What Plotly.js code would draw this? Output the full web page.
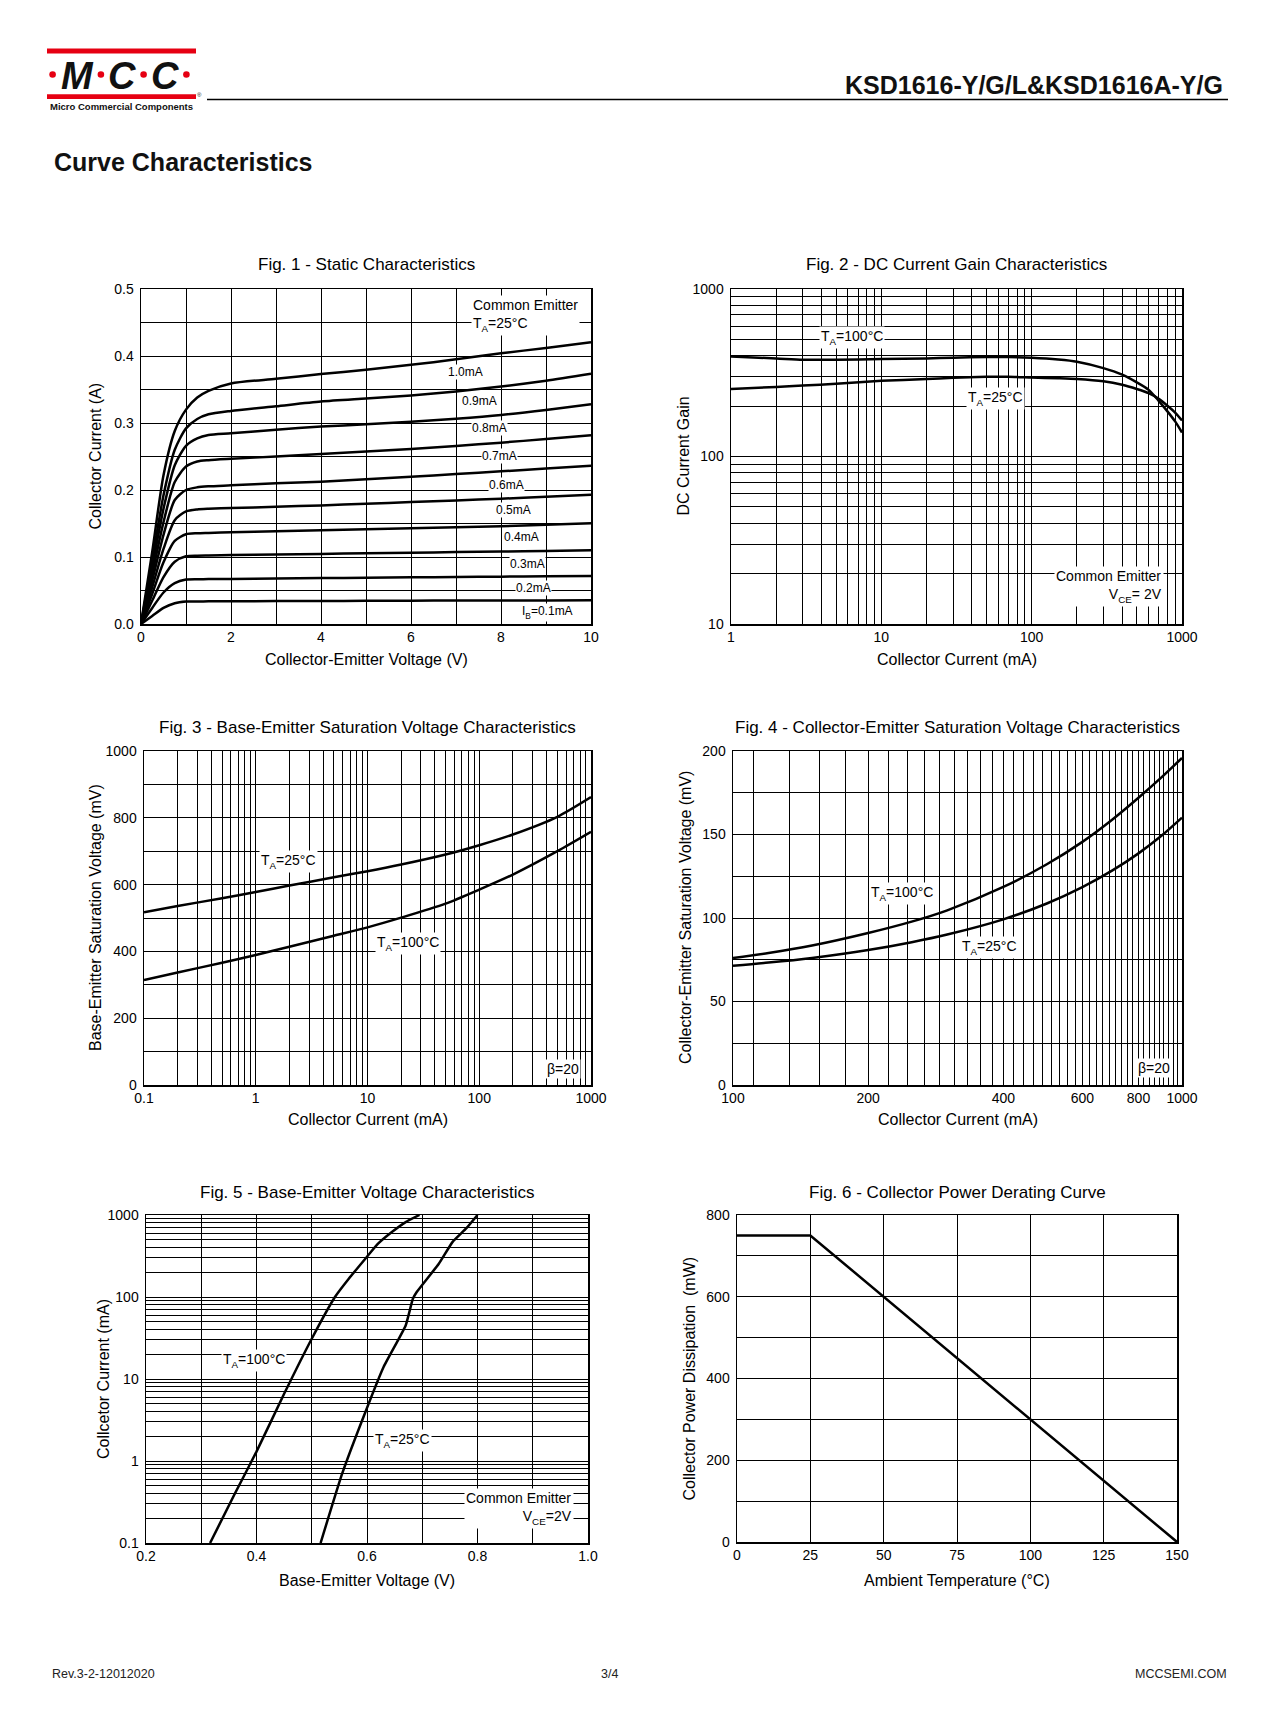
<!DOCTYPE html>
<html><head><meta charset="utf-8">
<script src="https://cdn.plot.ly/plotly-3.0.1.min.js"></script>
<style>body{margin:0;background:#fff}#chart{width:1276px;height:1719px}</style>
</head><body><div id="chart"></div>
<script>
// ---------------- DATA ----------------
// Fig. 1 - Static characteristics (Vce in V, Ic in A)
var fig1Vce = [0, 0.25, 0.5, 0.75, 1, 1.25, 1.5, 2, 3, 4, 5, 6, 7, 8, 9, 10];
var fig1Ib01 = [0, 0.012, 0.024, 0.031, 0.0335, 0.0337, 0.0338, 0.0340, 0.0342, 0.0344, 0.0346, 0.0348, 0.0350, 0.0351, 0.0352, 0.0354];
var fig1Ib02 = [0, 0.024, 0.047, 0.061, 0.0663, 0.0668, 0.0670, 0.0673, 0.0679, 0.0685, 0.0690, 0.0696, 0.0702, 0.0707, 0.0712, 0.0718];
var fig1Ib03 = [0, 0.035, 0.070, 0.093, 0.101, 0.102, 0.1023, 0.1028, 0.1037, 0.1046, 0.1055, 0.1064, 0.1073, 0.1082, 0.1091, 0.110];
var fig1Ib04 = [0, 0.045, 0.092, 0.124, 0.134, 0.1355, 0.136, 0.137, 0.1385, 0.140, 0.1415, 0.143, 0.1445, 0.146, 0.148, 0.1505];
var fig1Ib05 = [0, 0.055, 0.112, 0.155, 0.168, 0.171, 0.172, 0.173, 0.175, 0.177, 0.1795, 0.182, 0.1845, 0.187, 0.190, 0.193];
var fig1Ib06 = [0, 0.065, 0.133, 0.185, 0.200, 0.204, 0.2055, 0.207, 0.210, 0.2124, 0.216, 0.2198, 0.2238, 0.2278, 0.232, 0.2363];
var fig1Ib07 = [0, 0.075, 0.152, 0.212, 0.235, 0.2425, 0.2445, 0.2465, 0.250, 0.2537, 0.2575, 0.2612, 0.2658, 0.2707, 0.276, 0.2817];
var fig1Ib08 = [0, 0.085, 0.172, 0.237, 0.266, 0.277, 0.282, 0.2846, 0.290, 0.2946, 0.298, 0.302, 0.3065, 0.312, 0.3195, 0.328];
var fig1Ib09 = [0, 0.095, 0.192, 0.260, 0.292, 0.306, 0.313, 0.318, 0.325, 0.332, 0.3365, 0.341, 0.347, 0.3544, 0.363, 0.3734];
var fig1Ib10 = [0, 0.108, 0.222, 0.288, 0.320, 0.338, 0.348, 0.359, 0.366, 0.373, 0.3795, 0.3868, 0.395, 0.404, 0.412, 0.4207];
var fig1Labels = ['0.1mA', '0.2mA', '0.3mA', '0.4mA', '0.5mA', '0.6mA', '0.7mA', '0.8mA', '0.9mA', '1.0mA'];

// Fig. 2 - DC current gain (Ic in mA)
var fig2Ic = [1, 2, 3, 5, 10, 20, 30, 50, 70, 100, 150, 200, 300, 400, 500, 600, 700, 800, 900, 1000];
var fig2Hfe100 = [396, 385, 378, 378, 382, 385, 389, 392, 392, 388, 379, 368, 337, 308, 277, 250, 215, 186, 162, 139];
var fig2Hfe25 = [253, 260, 265, 272, 283, 290, 295, 299, 299, 296, 293, 290, 281, 268, 253, 239, 221, 201, 183, 164];

// Fig. 3 - Base-emitter saturation voltage (Ic mA, Vbe mV)
var fig3Ic = [0.1, 0.2, 0.5, 1, 2, 5, 10, 20, 50, 100, 200, 500, 1000];
var fig3Vbe25 = [517, 536, 559, 578, 597, 622, 640, 660, 690, 718, 750, 803, 862];
var fig3Vbe100 = [314, 337, 366, 389, 414, 447, 472, 501, 543, 585, 630, 700, 758];

// Fig. 4 - Collector-emitter saturation voltage (Ic mA, Vce mV)
var fig4Ic = [100, 120, 150, 200, 250, 300, 400, 500, 600, 700, 800, 900, 1000];
var fig4Vce100 = [76, 79, 83.5, 91, 97.8, 104.6, 118.6, 132.2, 145.6, 159, 172, 184.2, 195.8];
var fig4Vce25 = [71.4, 73.3, 76.1, 80.8, 85.5, 90.1, 99.2, 108.7, 118.5, 128.5, 138.7, 149.2, 160.1];

// Fig. 5 - Base-emitter voltage (Vbe V, Ic mA)
var fig5Vbe100 = [0.316, 0.36, 0.40, 0.45, 0.50, 0.542, 0.567, 0.60, 0.62, 0.645, 0.67, 0.695];
var fig5Ic100 = [0.1, 0.39, 1.3, 6.6, 31, 100, 167, 310, 447, 620, 820, 1000];
var fig5Vbe25 = [0.516, 0.555, 0.598, 0.63, 0.67, 0.683, 0.69, 0.73, 0.755, 0.78, 0.80];
var fig5Ic25 = [0.1, 0.7, 4.1, 14, 45, 95, 115, 254, 470, 690, 1000];

// Fig. 6 - Power derating
var fig6Temp = [0, 25, 150];
var fig6Pd = [750, 750, 0];

// Tick labels
var fig1XLabelVals = [0, 2, 4, 6, 8, 10], fig1XLabels = ['0', '2', '4', '6', '8', '10'];
var fig1YLabelVals = [0, 0.1, 0.2, 0.3, 0.4, 0.5], fig1YLabels = ['0.0', '0.1', '0.2', '0.3', '0.4', '0.5'];
var fig2XLabelVals = [1, 10, 100, 1000], fig2XLabels = ['1', '10', '100', '1000'];
var fig2YLabelVals = [10, 100, 1000], fig2YLabels = ['10', '100', '1000'];
var fig3XLabelVals = [0.1, 1, 10, 100, 1000], fig3XLabels = ['0.1', '1', '10', '100', '1000'];
var fig3YLabelVals = [0, 200, 400, 600, 800, 1000], fig3YLabels = ['0', '200', '400', '600', '800', '1000'];
var fig4XLabelVals = [100, 200, 400, 600, 800, 1000], fig4XLabels = ['100', '200', '400', '600', '800', '1000'];
var fig4YLabelVals = [0, 50, 100, 150, 200], fig4YLabels = ['0', '50', '100', '150', '200'];
var fig5XLabelVals = [0.2, 0.4, 0.6, 0.8, 1.0], fig5XLabels = ['0.2', '0.4', '0.6', '0.8', '1.0'];
var fig5YLabelVals = [0.1, 1, 10, 100, 1000], fig5YLabels = ['0.1', '1', '10', '100', '1000'];
var fig6XLabelVals = [0, 25, 50, 75, 100, 125, 150], fig6XLabels = ['0', '25', '50', '75', '100', '125', '150'];
var fig6YLabelVals = [0, 200, 400, 600, 800], fig6YLabels = ['0', '200', '400', '600', '800'];

// ---------------- HELPERS ----------------
var W = 1276, H = 1719;
function px(x) { return x / W; }
function py(y) { return 1 - y / H; }
function linGrid(a, b, step) { var v = []; var n = Math.round((b - a) / step); for (var i = 0; i <= n; i++) v.push(+(a + i * step).toFixed(6)); return v; }
function logGrid(e0, e1) { var v = []; for (var e = e0; e < e1; e++) for (var k = 1; k <= 9; k++) v.push(+(k * Math.pow(10, e)).toPrecision(6)); v.push(Math.pow(10, e1)); return v; }
// subscript via baseline shift (no zero-width reset spans)
function sb(t, size) { size = size || 14; return '<span style="font-size:' + (size * 0.7).toFixed(1) + 'px;baseline-shift:-' + (size * 0.3).toFixed(1) + 'px">' + t + '</span>'; }
var FONT = 'Liberation Sans, Arial, Helvetica, sans-serif';
function baseAxis() {
  return { showline: true, mirror: true, linecolor: '#000', linewidth: 1.5, showgrid: true, gridcolor: '#000', gridwidth: 1,
    zeroline: false, ticks: '', tickmode: 'array', tickfont: { family: FONT, size: 14, color: '#000' }, fixedrange: true };
}
function axis(range, type, labelVals, labels, grid, extra) {
  var a = Object.assign(baseAxis(), { range: range, tickvals: labelVals, ticktext: labels,
    minor: { tickmode: 'array', tickvals: grid, showgrid: true, gridcolor: '#000', gridwidth: 1, ticks: '' } }, extra || {});
  if (type) a.type = type;
  return a;
}

// plot boxes in pixels [left, right, top, bottom]
var boxes = {
  1: [141, 591, 289, 624],
  2: [731, 1182, 289, 624],
  3: [144, 591, 751, 1085],
  4: [733, 1182, 751, 1085],
  5: [146, 588, 1215, 1543],
  6: [737, 1177, 1215, 1542]
};

var layout = {
  width: W, height: H, margin: { l: 0, r: 0, t: 0, b: 0 }, showlegend: false,
  paper_bgcolor: '#fff', plot_bgcolor: '#fff',
  font: { family: FONT, size: 14, color: '#000' },
  annotations: [], shapes: []
};

function setAxes(n, xa, ya) {
  var b = boxes[n];
  var id = (n === 1 ? '' : n);
  xa.domain = [px(b[0]), px(b[1])]; xa.anchor = 'y' + id;
  ya.domain = [py(b[3]), py(b[2])]; ya.anchor = 'x' + id; ya.ticklabelstandoff = 3;
  layout['xaxis' + id] = xa;
  layout['yaxis' + id] = ya;
}

setAxes(1, axis([0, 10], null, fig1XLabelVals, fig1XLabels, linGrid(0, 10, 1)),
           axis([0, 0.5], null, fig1YLabelVals, fig1YLabels, linGrid(0, 0.5, 0.05)));
setAxes(2, axis([0, 3], 'log', fig2XLabelVals, fig2XLabels, logGrid(0, 3)),
           axis([1, 3], 'log', fig2YLabelVals, fig2YLabels, logGrid(1, 3)));
setAxes(3, axis([-1, 3], 'log', fig3XLabelVals, fig3XLabels, logGrid(-1, 3)),
           axis([0, 1000], null, fig3YLabelVals, fig3YLabels, linGrid(0, 1000, 100)));
var g4x = [100]; for (var k = 5; k <= 45; k++) g4x.push(+(k * 200 / 9).toFixed(4));
setAxes(4, axis([2, 3], 'log', fig4XLabelVals, fig4XLabels, g4x),
           axis([0, 200], null, fig4YLabelVals, fig4YLabels, linGrid(0, 200, 25)));
setAxes(5, axis([0.2, 1.0], null, fig5XLabelVals, fig5XLabels, linGrid(0.2, 1.0, 0.1)),
           axis([-1, 3], 'log', fig5YLabelVals, fig5YLabels, logGrid(-1, 3)));
setAxes(6, axis([0, 150], null, fig6XLabelVals, fig6XLabels, linGrid(0, 150, 25)),
           axis([0, 800], null, fig6YLabelVals, fig6YLabels, linGrid(0, 800, 100)));

// ---------------- TRACES ----------------
var traces = [];
function curve(n, x, y, shape, sm) {
  traces.push({ x: x, y: y, xaxis: 'x' + (n === 1 ? '' : n), yaxis: 'y' + (n === 1 ? '' : n), mode: 'lines',
    line: { color: '#000', width: 2.5, shape: shape || 'spline', smoothing: sm || 0.7 }, hoverinfo: 'skip' });
}
[fig1Ib01, fig1Ib02, fig1Ib03, fig1Ib04, fig1Ib05, fig1Ib06, fig1Ib07, fig1Ib08, fig1Ib09, fig1Ib10].forEach(function (s) { curve(1, fig1Vce, s); });
curve(2, fig2Ic, fig2Hfe100); curve(2, fig2Ic, fig2Hfe25);
curve(3, fig3Ic, fig3Vbe25); curve(3, fig3Ic, fig3Vbe100);
curve(4, fig4Ic, fig4Vce100); curve(4, fig4Ic, fig4Vce25);
curve(5, fig5Vbe100, fig5Ic100, 'spline', 0.5); curve(5, fig5Vbe25, fig5Ic25, 'spline', 0.4);
curve(6, fig6Temp, fig6Pd, 'linear');

// ---------------- ANNOTATIONS ----------------
var A = layout.annotations;
function ann(n, x, y, text, o) {
  A.push(Object.assign({ xref: 'x' + (n === 1 ? '' : n), yref: 'y' + (n === 1 ? '' : n), x: x, y: y, text: text,
    showarrow: false, bgcolor: '#fff', borderpad: 1, font: { family: FONT, size: 14, color: '#000' } }, o || {}));
}
function paperText(x, y, text, o) {
  A.push(Object.assign({ xref: 'paper', yref: 'paper', x: px(x), y: py(y), text: text, showarrow: false,
    xanchor: 'center', yanchor: 'middle', font: { family: FONT, size: 14, color: '#000' } }, o || {}));
}
var TA25 = 'T' + sb('A') + '=25°C', TA100 = 'T' + sb('A') + '=100°C';

// Fig 1 curve labels
var f1lx = [9.03, 8.73, 8.58, 8.46, 8.27, 8.13, 7.96, 7.75, 7.52, 7.22];
var f1ly = [0.017, 0.053, 0.089, 0.130, 0.170, 0.2074, 0.250, 0.292, 0.333, 0.3754];
fig1Labels.forEach(function (t, i) {
  ann(1, f1lx[i], f1ly[i], (i === 0 ? 'I' + sb('B', 12) + '=' : '') + t, { font: { family: FONT, size: 12, color: '#000' }, borderpad: 0 });
});
ann(1, 7.33, 0.4605, 'Common Emitter<br>' + TA25, { xanchor: 'left', align: 'left' });

ann(2, Math.log10(6.34), Math.log10(516), TA100);
ann(2, Math.log10(57.6), Math.log10(221), TA25);
ann(2, Math.log10(760), Math.log10(16.8), 'Common Emitter<br>V' + sb('CE') + '= 2V', { xanchor: 'right', align: 'right' });

ann(3, Math.log10(1.97), 668, TA25);
ann(3, Math.log10(22.9), 425, TA100);
ann(3, Math.log10(560), 49, 'β=20');

ann(4, Math.log10(238), 114.5, TA100);
ann(4, Math.log10(373), 82.4, TA25);
ann(4, Math.log10(865), 10, 'β=20');

ann(5, 0.395, 1.226, TA100);
ann(5, 0.664, 0.249, TA25);
ann(5, 0.975, -0.585, 'Common Emitter<br>V' + sb('CE') + '=2V', { xanchor: 'right', align: 'right' });

// Figure titles
var figTitles = ['Fig. 1 - Static Characteristics', 'Fig. 2 - DC Current Gain Characteristics',
  'Fig. 3 - Base-Emitter Saturation Voltage Characteristics', 'Fig. 4 - Collector-Emitter Saturation Voltage Characteristics',
  'Fig. 5 - Base-Emitter Voltage Characteristics', 'Fig. 6 - Collector Power Derating Curve'];
var xTitles = ['Collector-Emitter Voltage (V)', 'Collector Current (mA)', 'Collector Current (mA)', 'Collector Current (mA)',
  'Base-Emitter Voltage (V)', 'Ambient Temperature (°C)'];
var yTitles = ['Collector Current (A)', 'DC Current Gain', 'Base-Emitter Saturation Voltage (mV)',
  'Collector-Emitter Saturation Voltage (mV)', 'Collcetor Current (mA)', 'Collector Power Dissipation  (mW)'];
var titleY = [265, 265, 728, 728, 1192, 1192];
var xTitleY = [659, 659, 1119, 1119, 1580, 1580];
var yTitleX = [95, 683, 95, 685, 103, 689];
for (var n = 1; n <= 6; n++) {
  var b = boxes[n];
  paperText((b[0] + b[1]) / 2, titleY[n - 1], figTitles[n - 1], { font: { family: FONT, size: 17, color: '#000' } });
  paperText((b[0] + b[1]) / 2, xTitleY[n - 1], xTitles[n - 1], { font: { family: FONT, size: 16, color: '#000' } });
  paperText(yTitleX[n - 1], (b[2] + b[3]) / 2, yTitles[n - 1], { textangle: -90, font: { family: FONT, size: 16, color: '#000' } });
}

// ---------------- HEADER / FOOTER ----------------
var S = layout.shapes;
S.push({ type: 'rect', xref: 'paper', yref: 'paper', x0: px(47), x1: px(196), y0: py(53.5), y1: py(48.6), fillcolor: '#E60012', line: { width: 0 } });
S.push({ type: 'rect', xref: 'paper', yref: 'paper', x0: px(47), x1: px(196), y0: py(98.9), y1: py(94.3), fillcolor: '#E60012', line: { width: 0 } });
S.push({ type: 'line', xref: 'paper', yref: 'paper', x0: px(207), x1: px(1228), y0: py(99.5), y1: py(99.5), line: { color: '#000', width: 1.5 } });
[52.6, 100.9, 143.6, 186.4].forEach(function (cx) {
  S.push({ type: 'circle', xref: 'paper', yref: 'paper', x0: px(cx - 3.3), x1: px(cx + 3.3), y0: py(74.5 + 3.3), y1: py(74.5 - 3.3), fillcolor: '#E60012', line: { width: 0 } });
});
[[77.5, 'M'], [122.3, 'C'], [165, 'C']].forEach(function (p) {
  paperText(p[0], 76, '<b><i>' + p[1] + '</i></b>', { font: { family: FONT, size: 38, color: '#111' } });
});
paperText(121.5, 107, '<b>Micro Commercial Components</b>', { font: { family: FONT, size: 9.5, color: '#111' } });
paperText(199, 95, '®', { font: { family: FONT, size: 6, color: '#111' } });
paperText(1225, 85, '<b>KSD1616-Y/G/L&amp;KSD1616A-Y/G</b>', { xanchor: 'right', font: { family: FONT, size: 25, color: '#111' } });
paperText(52, 162, '<b>Curve Characteristics</b>', { xanchor: 'left', font: { family: FONT, size: 25, color: '#111' } });
paperText(50, 1674, 'Rev.3-2-12012020', { xanchor: 'left', font: { family: FONT, size: 12.5, color: '#222' } });
paperText(609, 1674, '3/4', { font: { family: FONT, size: 12.5, color: '#222' } });
paperText(1229, 1674, 'MCCSEMI.COM', { xanchor: 'right', font: { family: FONT, size: 12.5, color: '#222' } });

Plotly.newPlot('chart', traces, layout, { staticPlot: true });
</script></body></html>
